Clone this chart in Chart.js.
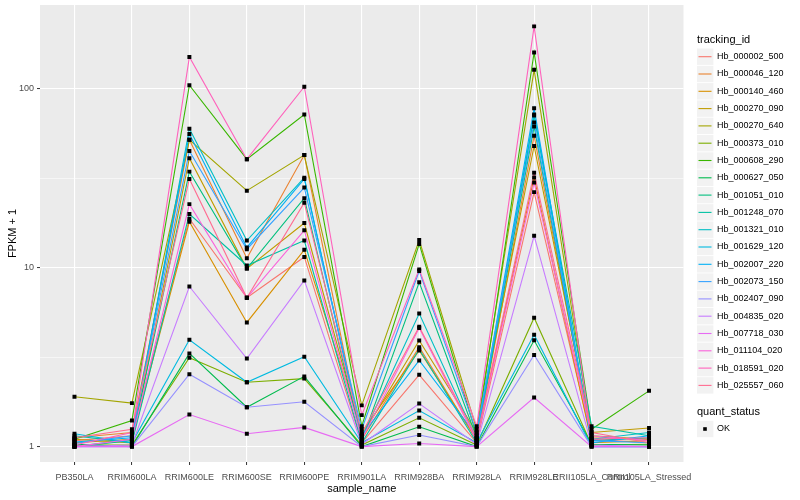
<!DOCTYPE html>
<html>
<head>
<meta charset="utf-8">
<script src="https://cdn.jsdelivr.net/npm/chart.js@4.4.1/dist/chart.umd.min.js"></script>
<style>
  html, body { margin: 0; padding: 0; background: #fff; }
  #wrap { width: 800px; height: 500px; }
</style>
</head>
<body>
<div id="wrap"><canvas id="chart" width="800" height="500"></canvas></div>
<script>
// categories on the x axis
const categories = ['PB350LA', 'RRIM600LA', 'RRIM600LE', 'RRIM600SE', 'RRIM600PE', 'RRIM901LA',
    'RRIM928BA', 'RRIM928LA', 'RRIM928LE', 'RRII105LA_Control', 'RRII105LA_Stressed'];

const trackingIds = ['Hb_000002_500', 'Hb_000046_120', 'Hb_000140_460', 'Hb_000270_090', 'Hb_000270_640',
    'Hb_000373_010', 'Hb_000608_290', 'Hb_000627_050', 'Hb_001051_010', 'Hb_001248_070',
    'Hb_001321_010', 'Hb_001629_120', 'Hb_002007_220', 'Hb_002073_150', 'Hb_002407_090',
    'Hb_004835_020', 'Hb_007718_030', 'Hb_011104_020', 'Hb_018591_020', 'Hb_025557_060'];

// FPKM + 1, one array per gene, same order as categories
const hb000002_500 = [1.08, 1.15, 18.8, 6.8, 11.5, 1.05, 2.52, 1.05, 26.5, 1.10, 1.05];
const hb000046_120 = [1.12, 1.20, 52, 11.3, 42.7, 1.10, 3.6, 1.08, 54.8, 1.12, 1.10];
const hb000140_460 = [1.05, 1.10, 18.1, 4.95, 12.6, 1.20, 3.45, 1.10, 32, 1.05, 1.08];
const hb000270_090 = [1.10, 1.05, 41, 9.9, 17.8, 1.15, 3.92, 1.20, 48, 1.20, 1.27];
const hb000270_640 = [1.90, 1.75, 52, 27, 42.7, 1.70, 14.3, 1.25, 128, 1.15, 1.10];
const hb000373_010 = [1.02, 1.02, 3.14, 2.29, 2.4, 1.02, 1.45, 1.02, 5.26, 1.02, 1.03];
const hb000608_290 = [1.10, 1.40, 105, 40.5, 72, 1.30, 13.6, 1.15, 160, 1.25, 2.05];
const hb000627_050 = [1.03, 1.00, 3.32, 1.66, 2.47, 1.00, 1.29, 1.00, 3.93, 1.03, 1.02];
const hb001051_010 = [1.00, 1.08, 34.5, 9.9, 24.5, 1.08, 8.3, 1.12, 61.6, 1.08, 1.12];
const hb001248_070 = [1.15, 1.05, 20, 10.3, 14.2, 1.05, 3.5, 1.05, 71, 1.30, 1.15];
const hb001321_010 = [1.00, 1.10, 60, 14.2, 31.9, 1.12, 5.55, 1.10, 72, 1.10, 1.20];
const hb001629_120 = [1.18, 1.05, 3.96, 2.29, 3.18, 1.05, 1.59, 1.05, 4.22, 1.00, 1.00];
const hb002007_220 = [1.06, 1.12, 56, 13, 31.4, 1.15, 3.03, 1.15, 78, 1.05, 1.15];
const hb002073_150 = [1.04, 1.15, 45, 12.7, 28.1, 1.25, 9.6, 1.20, 65, 1.08, 1.05];
const hb002407_090 = [1.00, 1.00, 2.54, 1.66, 1.78, 1.00, 1.16, 1.00, 3.25, 1.00, 1.00];
const hb004835_020 = [1.00, 1.02, 7.86, 3.11, 8.5, 1.03, 1.74, 1.03, 15.1, 1.02, 1.00];
const hb007718_030 = [1.00, 1.00, 1.51, 1.18, 1.28, 1.00, 1.04, 1.00, 1.88, 1.00, 1.00];
const hb011104_020 = [1.00, 1.10, 22.7, 6.8, 16.2, 1.10, 4.6, 1.08, 30, 1.15, 1.08];
const hb018591_020 = [1.02, 1.20, 151, 40.5, 103, 1.50, 9.8, 1.30, 224, 1.10, 1.12];
const hb025557_060 = [1.12, 1.25, 31.4, 6.8, 23.1, 1.18, 4.68, 1.12, 34, 1.20, 1.05];

const seriesValues = [hb000002_500, hb000046_120, hb000140_460, hb000270_090, hb000270_640,
    hb000373_010, hb000608_290, hb000627_050, hb001051_010, hb001248_070,
    hb001321_010, hb001629_120, hb002007_220, hb002073_150, hb002407_090,
    hb004835_020, hb007718_030, hb011104_020, hb018591_020, hb025557_060];

const yMajorTicks = [1, 10, 100];
const yMinorTicks = [3.1623, 31.623];

// ggplot default hue palette for 20 levels
const colors = ['#F8766D', '#EA8331', '#D89000', '#C09B00', '#A3A500', '#7CAE00', '#39B600', '#00BB4E',
    '#00BF7D', '#00C1A3', '#00BFC4', '#00BAE0', '#00B0F6', '#35A2FF', '#9590FF', '#C77CFF',
    '#E76BF3', '#FA62DB', '#FF62BC', '#FF6C91'];

const FONT = '"Liberation Sans", Arial, sans-serif';

const toPoints = vals => vals.map((v, i) => ({ x: i, y: v }));

const datasets = [];
// lines (later levels drawn on top, like ggplot)
seriesValues.forEach((vals, i) => {
    datasets.push({
        label: trackingIds[i],
        data: toPoints(vals),
        borderColor: colors[i],
        borderWidth: 1.1,
        pointRadius: 0,
        fill: false,
        tension: 0,
        order: 100 - i
    });
});
// points above every line
seriesValues.forEach((vals, i) => {
    datasets.push({
        label: trackingIds[i] + ' OK',
        data: toPoints(vals),
        showLine: false,
        pointStyle: 'rect',
        pointRadius: 2.8,
        pointBackgroundColor: '#000',
        pointBorderWidth: 0,
        order: 0
    });
});

const panelBg = {
    id: 'panelBg',
    beforeDraw(chart) {
        const a = chart.chartArea;
        const ctx = chart.ctx;
        ctx.save();
        ctx.fillStyle = '#EBEBEB';
        ctx.fillRect(a.left, a.top, a.right - a.left, a.bottom - a.top);
        ctx.restore();
    }
};

const ggLegend = {
    id: 'ggLegend',
    afterDraw(chart) {
        const ctx = chart.ctx;
        ctx.save();
        ctx.textBaseline = 'middle';
        ctx.textAlign = 'left';
        ctx.fillStyle = '#000';
        ctx.font = '11px ' + FONT;
        ctx.fillText('tracking_id', 697, 40);
        trackingIds.forEach((id, i) => {
            const cy = 56.7 + 17.3 * i;
            ctx.fillStyle = '#F2F2F2';
            ctx.fillRect(697, cy - 8.2, 16.4, 16.4);
            ctx.strokeStyle = colors[i];
            ctx.lineWidth = 1.1;
            ctx.beginPath();
            ctx.moveTo(698.5, cy);
            ctx.lineTo(711.5, cy);
            ctx.stroke();
            ctx.fillStyle = '#000';
            ctx.font = '9px ' + FONT;
            ctx.fillText(id, 717, cy);
        });
        ctx.font = '11px ' + FONT;
        ctx.fillText('quant_status', 697, 412);
        ctx.fillStyle = '#F2F2F2';
        ctx.fillRect(697, 429 - 8.2, 16.4, 16.4);
        ctx.fillStyle = '#000';
        ctx.fillRect(703.2, 427.2, 3.6, 3.6);
        ctx.font = '9px ' + FONT;
        ctx.fillText('OK', 717, 429);
        ctx.restore();
    }
};

new Chart(document.getElementById('chart'), {
    type: 'line',
    data: { datasets: datasets },
    options: {
        responsive: false,
        animation: false,
        devicePixelRatio: 1,
        layout: { padding: { top: 5, right: 116.5, bottom: 0, left: 0 } },
        plugins: {
            legend: { display: false },
            tooltip: { enabled: false }
        },
        scales: {
            x: {
                type: 'linear',
                min: -0.6,
                max: categories.length - 0.4,
                afterBuildTicks: s => { s.ticks = categories.map((c, i) => ({ value: i })); },
                afterFit: s => { s.height = 38; s.paddingLeft = 0; s.paddingRight = 0; },
                border: { display: false },
                grid: { color: '#FFFFFF', lineWidth: 1.1, tickColor: '#333333', tickLength: 3, tickWidth: 1 },
                ticks: {
                    autoSkip: false,
                    maxRotation: 0,
                    padding: 7,
                    color: '#4D4D4D',
                    font: { family: FONT, size: 9 },
                    callback: v => categories[v]
                },
                title: {
                    display: true,
                    text: 'sample_name',
                    color: '#000',
                    font: { family: FONT, size: 11 },
                    padding: { top: 4, bottom: 4 }
                }
            },
            y: {
                type: 'logarithmic',
                min: 0.82,
                max: 295,
                afterBuildTicks: s => {
                    s.ticks = yMajorTicks.concat(yMinorTicks).sort((a, b) => a - b).map(v => ({ value: v }));
                },
                afterFit: s => { s.width = 40; s.paddingTop = 0; s.paddingBottom = 0; },
                border: { display: false },
                grid: {
                    color: '#FFFFFF',
                    lineWidth: c => yMajorTicks.includes(c.tick.value) ? 1.1 : 0.55,
                    tickColor: c => yMajorTicks.includes(c.tick.value) ? '#333333' : 'rgba(0,0,0,0)',
                    tickLength: 3,
                    tickWidth: 1
                },
                ticks: {
                    padding: 3,
                    color: '#4D4D4D',
                    font: { family: FONT, size: 9 },
                    callback: v => yMajorTicks.includes(v) ? String(v) : ''
                },
                title: {
                    display: true,
                    text: 'FPKM + 1',
                    color: '#000',
                    font: { family: FONT, size: 11 },
                    padding: { top: 6, bottom: 0 }
                }
            }
        }
    },
    plugins: [panelBg, ggLegend]
});
</script>
</body>
</html>
